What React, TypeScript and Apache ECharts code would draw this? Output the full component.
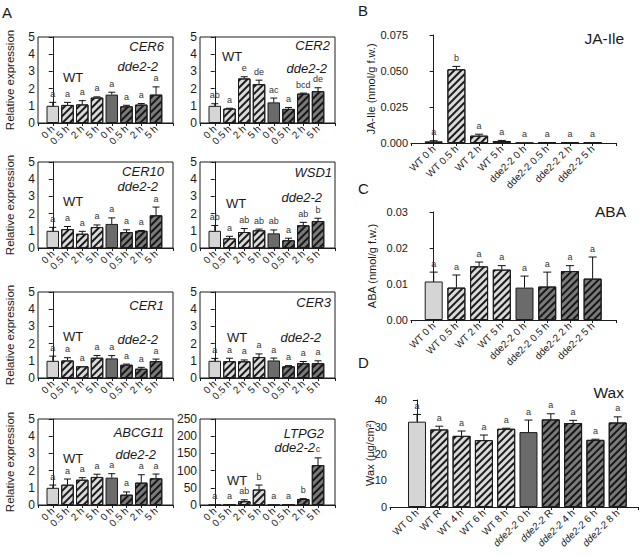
import React, { useEffect, useRef } from 'react';
import * as echarts from 'echarts';

const FONT = "'Liberation Sans', Arial, Helvetica, sans-serif";

// ---------- categories ----------
const timeLabels = ['0 h', '0.5 h', '2 h', '5 h', '0 h', '0.5 h', '2 h', '5 h'];
const hormoneLabels = ['WT 0 h', 'WT 0.5 h', 'WT 2 h', 'WT 5 h', 'dde2-2 0 h', 'dde2-2 0.5 h', 'dde2-2 2 h', 'dde2-2 5 h'];
const waxLabels = ['WT 0 h', 'WT R', 'WT 4 h', 'WT 6 h', 'WT 8 h', 'dde2-2 0 h', 'dde2-2 R', 'dde2-2 4 h', 'dde2-2 6 h', 'dde2-2 8 h'];

// ---------- panel A: relative expression ----------
const cer6Mean = [1.0, 1.05, 1.08, 1.48, 1.65, 0.97, 1.07, 1.65];
const cer6Err = [0.2, 0.15, 0.22, 0.04, 0.14, 0.06, 0.06, 0.45];
const cer6Sig = ['a', 'a', 'a', 'a', 'a', 'a', 'a', 'a'];

const cer2Mean = [1.0, 0.84, 2.59, 2.26, 1.2, 0.82, 1.71, 1.85];
const cer2Err = [0.12, 0.02, 0.1, 0.23, 0.25, 0.08, 0.03, 0.2];
const cer2Sig = ['ab', 'a', 'e', 'de', 'ac', 'a', 'bcd', 'de'];

const cer10Mean = [1.0, 1.1, 0.83, 1.22, 1.4, 0.93, 1.0, 1.9];
const cer10Err = [0.2, 0.15, 0.14, 0.12, 0.35, 0.13, 0.02, 0.48];
const cer10Sig = ['a', 'a', 'a', 'a', 'a', 'a', 'a', 'a'];

const wsd1Mean = [1.0, 0.56, 0.93, 1.03, 0.85, 0.45, 1.32, 1.57];
const wsd1Err = [0.31, 0.12, 0.2, 0.07, 0.2, 0.12, 0.17, 0.16];
const wsd1Sig = ['ab', 'a', 'ab', 'ab', 'ab', 'a', 'ab', 'b'];

const cer1Mean = [1.0, 1.02, 0.68, 1.18, 1.14, 0.77, 0.54, 0.98];
const cer1Err = [0.27, 0.16, 0.0, 0.13, 0.16, 0.04, 0.08, 0.12];
const cer1Sig = ['a', 'a', 'a', 'a', 'a', 'a', 'a', 'a'];

const cer3Mean = [1.0, 0.98, 0.97, 1.22, 1.02, 0.68, 0.86, 0.86];
const cer3Err = [0.14, 0.17, 0.08, 0.18, 0.14, 0.04, 0.1, 0.14];
const cer3Sig = ['a', 'a', 'a', 'a', 'a', 'a', 'a', 'a'];

const abcg11Mean = [1.0, 1.18, 1.47, 1.63, 1.59, 0.6, 1.3, 1.55];
const abcg11Err = [0.16, 0.33, 0.12, 0.16, 0.23, 0.16, 0.46, 0.25];
const abcg11Sig = ['a', 'a', 'a', 'a', 'a', 'a', 'a', 'a'];

const ltpg2Mean = [0.6, 0.4, 11, 45, 1.0, 0.4, 17.5, 116];
const ltpg2Err = [0, 0, 4, 13, 0, 0, 1, 21];
const ltpg2Sig = ['a', 'a', 'ab', 'b', 'a', 'a', 'b', 'c'];

// ---------- panel B: JA-Ile ----------
const jaMean = [0.0012, 0.0512, 0.0051, 0.0014, 0.0002, 0.0003, 0.0002, 0.0002];
const jaErr = [0.0004, 0.002, 0.001, 0.0004, 0, 0, 0, 0];
const jaSig = ['a', 'b', 'a', 'a', 'a', 'a', 'a', 'a'];

// ---------- panel C: ABA ----------
const abaMean = [0.0107, 0.009, 0.0149, 0.014, 0.009, 0.0093, 0.0136, 0.0115];
const abaErr = [0.0026, 0.0035, 0.0012, 0.0011, 0.0032, 0.004, 0.0015, 0.006];
const abaSig = ['a', 'a', 'a', 'a', 'a', 'a', 'a', 'a'];

// ---------- panel D: Wax ----------
const waxMean = [31.9, 29.0, 26.6, 25.0, 29.25, 28.0, 32.75, 31.4, 25.1, 31.6];
const waxErr = [2.7, 1.2, 1.8, 1.9, 0.2, 4.5, 2.1, 1.0, 0.25, 2.1];
const waxSig = ['a', 'a', 'a', 'a', 'a', 'a', 'a', 'a', 'a', 'a'];

// bar fill kinds
const kinds8 = ['L', 'LH', 'LH', 'LH', 'D', 'DH', 'DH', 'DH'];
const kinds10 = ['L', 'LH', 'LH', 'LH', 'LH', 'D', 'DH', 'DH', 'DH', 'DH'];

const hatch = (c: string) => ({
  symbol: 'rect',
  symbolSize: 1,
  dashArrayX: [1, 0],
  dashArrayY: [1.1, 2.9],
  rotation: -Math.PI / 4,
  color: c,
});

function barStyle(kind: string) {
  const base = { borderColor: '#1c1c1c', borderWidth: 1 };
  if (kind === 'L') return { ...base, color: '#d5d5d5' };
  if (kind === 'LH') return { ...base, color: '#dadada', decal: hatch('#1a1a1a') };
  if (kind === 'D') return { ...base, color: '#6b6b6b' };
  return { ...base, color: '#7a7a7a', decal: hatch('#161616') };
}

function buildOption() {
  const grids: any[] = [];
  const xAxes: any[] = [];
  const yAxes: any[] = [];
  const series: any[] = [];
  const graphics: any[] = [];

  const txt = (x: number, y: number, text: string, font: string, align = 'left', valign = 'middle', extra: any = {}) => {
    graphics.push({
      type: 'text',
      x,
      y,
      silent: true,
      ...extra,
      style: { text, font, fill: '#1a1a1a', textAlign: align, textVerticalAlign: valign },
    });
  };

  const addPanel = (cfg: any) => {
    const k = grids.length;
    grids.push({
      left: cfg.left,
      top: cfg.top,
      width: cfg.width,
      height: cfg.height,
      show: !!cfg.frame,
      borderColor: '#1c1c1c',
      borderWidth: 1,
      backgroundColor: 'transparent',
      containLabel: false,
      outerBoundsMode: 'none',
    });
    const n = cfg.mean.length;
    const ticks: number[] = [];
    for (let i = 0; i < n; i++) ticks.push(i);
    xAxes.push({
      gridIndex: k,
      type: 'value',
      min: cfg.xMin,
      max: cfg.xMax,
      splitLine: { show: false },
      axisLine: { show: true, onZero: false, lineStyle: { color: '#1c1c1c', width: 1 } },
      axisTick: { show: true, length: 3, customValues: [cfg.xMin, ...ticks, cfg.xMax], lineStyle: { color: '#1c1c1c' } },
      axisLabel: {
        customValues: ticks,
        rotate: 45,
        margin: 4,
        fontSize: cfg.xFont,
        fontFamily: FONT,
        color: '#1a1a1a',
        formatter: (v: number) => {
          const s = cfg.labels[Math.round(v)];
          if (s === undefined) return '';
          if (cfg.italicDde && s.startsWith('dde2-2')) return '{i|dde2-2}' + s.slice(6);
          return s;
        },
        rich: { i: { fontStyle: 'italic', fontSize: cfg.xFont, fontFamily: FONT, color: '#1a1a1a' } },
      },
    });
    yAxes.push({
      gridIndex: k,
      type: 'value',
      min: 0,
      max: cfg.yMax,
      interval: cfg.yInterval,
      splitLine: { show: false },
      axisLine: { show: true, lineStyle: { color: '#1c1c1c', width: 1 } },
      axisTick: { show: true, length: 4, lineStyle: { color: '#1c1c1c' } },
      axisLabel: {
        fontSize: cfg.yFont,
        fontFamily: FONT,
        color: '#1a1a1a',
        margin: 3,
        formatter: cfg.yFmt || ((v: number) => String(v)),
      },
    });
    series.push({
      type: 'bar',
      xAxisIndex: k,
      yAxisIndex: k,
      barWidth: cfg.barWidth,
      silent: true,
      data: cfg.mean.map((m: number, i: number) => ({ value: [i, m], itemStyle: barStyle(cfg.kinds[i]) })),
    });
    const cap = cfg.cap;
    const sig = cfg.sig;
    series.push({
      type: 'custom',
      xAxisIndex: k,
      yAxisIndex: k,
      silent: true,
      z: 5,
      clip: false,
      data: cfg.mean.map((m: number, i: number) => [i, m, cfg.err[i]]),
      renderItem: (params: any, api: any) => {
        const x = api.value(0);
        const m = api.value(1);
        const e = api.value(2);
        const p0 = api.coord([x, m]);
        const p1 = api.coord([x, m + e]);
        const children: any[] = [];
        if (e > 0) {
          children.push({
            type: 'line',
            shape: { x1: p0[0], y1: p0[1], x2: p1[0], y2: p1[1] },
            style: { stroke: '#111', lineWidth: 1 },
          });
          children.push({
            type: 'line',
            shape: { x1: p1[0] - cap, y1: p1[1], x2: p1[0] + cap, y2: p1[1] },
            style: { stroke: '#111', lineWidth: 1 },
          });
        }
        children.push({
          type: 'text',
          x: p1[0],
          y: p1[1] - 4,
          style: {
            text: sig[params.dataIndex],
            font: `9px ${FONT}`,
            fill: '#333',
            textAlign: 'center',
            textVerticalAlign: 'bottom',
          },
        });
        return { type: 'group', children };
      },
    });
  };

  // ----- panel A -----
  const geneData = [
    { name: 'CER6', mean: cer6Mean, err: cer6Err, sig: cer6Sig, yMax: 5, yInterval: 1 },
    { name: 'CER2', mean: cer2Mean, err: cer2Err, sig: cer2Sig, yMax: 5, yInterval: 1 },
    { name: 'CER10', mean: cer10Mean, err: cer10Err, sig: cer10Sig, yMax: 5, yInterval: 1 },
    { name: 'WSD1', mean: wsd1Mean, err: wsd1Err, sig: wsd1Sig, yMax: 5, yInterval: 1 },
    { name: 'CER1', mean: cer1Mean, err: cer1Err, sig: cer1Sig, yMax: 5, yInterval: 1 },
    { name: 'CER3', mean: cer3Mean, err: cer3Err, sig: cer3Sig, yMax: 5, yInterval: 1 },
    { name: 'ABCG11', mean: abcg11Mean, err: abcg11Err, sig: abcg11Sig, yMax: 5, yInterval: 1 },
    { name: 'LTPG2', mean: ltpg2Mean, err: ltpg2Err, sig: ltpg2Sig, yMax: 250, yInterval: 50 },
  ];
  const geneLayout = [
    { left: 38, top: 37, gene: [164, 46], wt: [73, 77], dde: [158, 66] },
    { left: 200, top: 37, gene: [330, 45], wt: [232, 56], dde: [327, 68] },
    { left: 38, top: 162, gene: [164, 171], wt: [73, 201], dde: [158, 186] },
    { left: 200, top: 162, gene: [332, 172], wt: [236, 203], dde: [322, 197] },
    { left: 38, top: 292, gene: [164, 305], wt: [73, 336], dde: [158, 339] },
    { left: 200, top: 292, gene: [331, 302], wt: [237, 337], dde: [321, 337] },
    { left: 38, top: 419, gene: [164, 432], wt: [73, 458], dde: [156, 454] },
    { left: 200, top: 419, gene: [324, 433], wt: [237, 480], dde: [315, 447] },
  ];
  geneData.forEach((g, idx) => {
    const L = geneLayout[idx];
    addPanel({
      ...g,
      left: L.left,
      top: L.top,
      width: 135,
      height: 86,
      frame: true,
      xMin: -1,
      xMax: 8.15,
      labels: timeLabels,
      xFont: 10,
      yFont: 12,
      kinds: kinds8,
      barWidth: 12.5,
      cap: 3.5,
    });
    txt(L.gene[0], L.gene[1], g.name, `italic 13px ${FONT}`, 'right');
    txt(L.wt[0], L.wt[1], 'WT', `13px ${FONT}`, 'center');
    txt(L.dde[0], L.dde[1], 'dde2-2', `italic 13px ${FONT}`, 'right');
  });
  // y titles of panel A
  [80, 205, 335, 462].forEach((cy) => {
    txt(10, cy, 'Relative expression', `11.5px ${FONT}`, 'center', 'middle', { rotation: Math.PI / 2 });
  });

  // ----- panel B -----
  addPanel({
    mean: jaMean, err: jaErr, sig: jaSig, yMax: 0.075, yInterval: 0.025,
    yFmt: (v: number) => v.toFixed(3),
    left: 411, top: 35, width: 205, height: 108, frame: false,
    xMin: -1, xMax: 8.03, labels: hormoneLabels, xFont: 10, yFont: 11,
    kinds: kinds8, barWidth: 18, cap: 4,
  });
  txt(624, 38, 'JA-Ile', `15.5px ${FONT}`, 'right');
  txt(371, 89, 'JA-Ile (nmol/g f.w.)', `11px ${FONT}`, 'center', 'middle', { rotation: Math.PI / 2 });

  // ----- panel C -----
  addPanel({
    mean: abaMean, err: abaErr, sig: abaSig, yMax: 0.03, yInterval: 0.01,
    yFmt: (v: number) => v.toFixed(2),
    left: 411, top: 212, width: 205, height: 108, frame: false,
    xMin: -1, xMax: 8.03, labels: hormoneLabels, xFont: 10, yFont: 11,
    kinds: kinds8, barWidth: 18, cap: 4,
  });
  txt(626, 211, 'ABA', `15.5px ${FONT}`, 'right');
  txt(372, 266, 'ABA (nmol/g f.w.)', `11px ${FONT}`, 'center', 'middle', { rotation: Math.PI / 2 });

  // ----- panel D -----
  addPanel({
    mean: waxMean, err: waxErr, sig: waxSig, yMax: 40, yInterval: 10,
    left: 390, top: 400, width: 248, height: 107, frame: false,
    xMin: -1.21, xMax: 9.91, labels: waxLabels, xFont: 10, yFont: 11, italicDde: true,
    kinds: kinds10, barWidth: 18, cap: 4,
  });
  txt(624, 392, 'Wax', `15.5px ${FONT}`, 'right');
  txt(370, 453, 'Wax (µg/cm²)', `11px ${FONT}`, 'center', 'middle', { rotation: Math.PI / 2 });

  // panel letters
  txt(2, 12, 'A', `15px ${FONT}`, 'left');
  txt(358, 10, 'B', `15px ${FONT}`, 'left');
  txt(358, 188, 'C', `15px ${FONT}`, 'left');
  txt(358, 362, 'D', `15px ${FONT}`, 'left');

  return {
    animation: false,
    backgroundColor: '#ffffff',
    textStyle: { fontFamily: FONT },
    grid: grids,
    xAxis: xAxes,
    yAxis: yAxes,
    series,
    graphic: { elements: graphics },
  };
}

export default function App() {
  const ref = useRef<HTMLDivElement>(null);
  useEffect(() => {
    if (!ref.current) return;
    const chart = echarts.init(ref.current, null, { renderer: 'svg' });
    chart.setOption(buildOption() as any);
    return () => chart.dispose();
  }, []);
  return (
    <div
      ref={ref}
      style={{ position: 'absolute', left: 0, top: 0, width: 639, height: 557, background: '#fff' }}
    />
  );
}
